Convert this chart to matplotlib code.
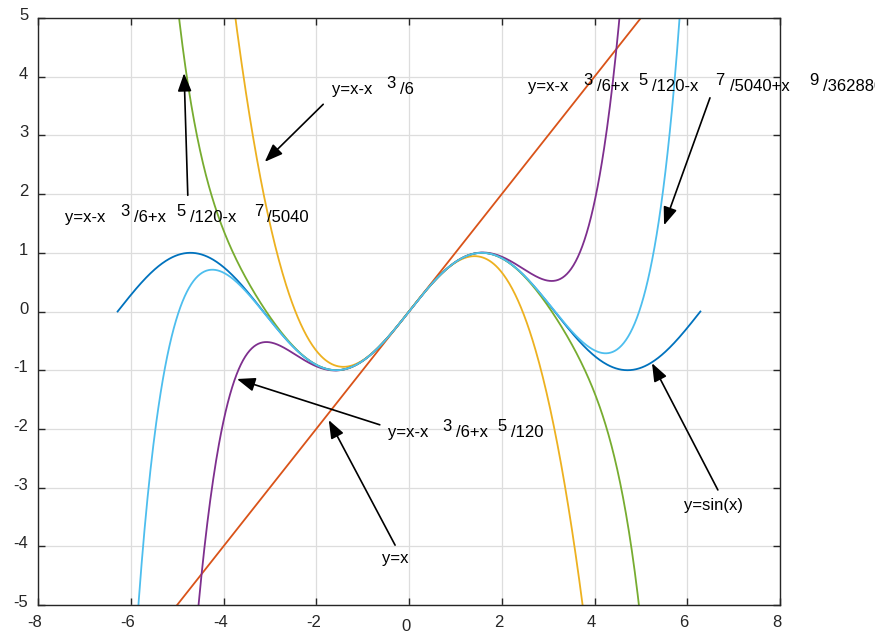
import numpy as np
import matplotlib
matplotlib.use('Agg')
import matplotlib.pyplot as plt
from matplotlib.transforms import ScaledTranslation

plt.rcParams['font.family'] = ['Liberation Sans', 'DejaVu Sans']
plt.rcParams['axes.unicode_minus'] = False

# data: sin(x) and its Taylor polynomials on [-2pi, 2pi]
x_min, x_max = -2 * np.pi, 2 * np.pi
taylor_orders = [1, 3, 5, 7, 9]
taylor_colors = ['#D95319', '#EDB120', '#7E2F8E', '#77AC30', '#4DBEEE']
x_ticks = [-8, -6, -4, -2, 0, 2, 4, 6, 8]
y_ticks = [-5, -4, -3, -2, -1, 0, 1, 2, 3, 4, 5]

# label pieces: (text, superscript?, gap before in px)
lab3 = [('y=x-x', 0, 0), ('3', 1, 14), ('/6', 0, 4)]
lab5 = [('y=x-x', 0, 0), ('3', 1, 14), ('/6+x', 0, 4), ('5', 1, 10), ('/120', 0, 4)]
lab7 = [('y=x-x', 0, 0), ('3', 1, 15), ('/6+x', 0, 4), ('5', 1, 11), ('/120-x', 0, 4),
        ('7', 1, 18), ('/5040', 0, 4)]
lab9 = [('y=x-x', 0, 0), ('3', 1, 15), ('/6+x', 0, 4), ('5', 1, 10), ('/120-x', 0, 4),
        ('7', 1, 17), ('/5040+x', 0, 5), ('9', 1, 20), ('/362880', 0, 4)]
lab1 = [('y=x', 0, 0)]
lab_sin = [('y=sin(x)', 0, 0)]

# annotations: label, text pos, arrow tail, arrow head (data units)
notes = [
    (lab3, (-1.66, 3.78), (-1.85, 3.53), (-3.11, 2.55)),
    (lab7, (-7.42, 1.60), (-4.77, 1.98), (-4.85, 4.06)),
    (lab9, (2.57, 3.83), (6.49, 3.64), (5.50, 1.47)),
    (lab5, (-0.45, -2.06), (-0.63, -1.93), (-3.71, -1.15)),
    (lab1, (-0.58, -4.2), (-0.30, -3.98), (-1.73, -1.85)),
    (lab_sin, (5.93, -3.30), (6.66, -3.04), (5.24, -0.88)),
]

x = np.linspace(x_min, x_max, 800)

fig = plt.figure(figsize=(8.75, 6.34), dpi=100)
ax = fig.add_axes([38 / 875, 29 / 634, 742 / 875, 587 / 634])

ax.plot(x, np.sin(x), color='#0072BD', lw=1.3)
y = np.zeros_like(x)
term = x.copy()
for n, c in zip(taylor_orders, taylor_colors):
    if n > 1:
        term = -term * x * x / ((n - 1) * n)
    y = y + term
    ax.plot(x, y, color=c, lw=1.3)

fs = 12
raise_pt = 4.5
for pieces, tpos, tail, head in notes:
    first = ax.text(tpos[0], tpos[1], pieces[0][0], fontsize=fs, va='center', ha='left', clip_on=False)
    prev = first
    up = 0
    for s, sup, gap in pieces[1:]:
        dy = raise_pt if sup else 0
        prev = ax.annotate(s, xy=(1, 0), xycoords=prev,
                           xytext=(gap * 0.72, dy - up), textcoords='offset points',
                           fontsize=fs, va='bottom', ha='left', annotation_clip=False)
        up = dy
    ax.annotate('', xy=head, xytext=tail,
                arrowprops=dict(arrowstyle='-|>,head_length=1.1,head_width=0.42',
                                color='k', lw=1.2, shrinkA=0, shrinkB=0))

ax.set_xlim(-8, 8)
ax.set_ylim(-5, 5)
ax.set_xticks(x_ticks)
ax.set_yticks(y_ticks)
ax.grid(True, color='#dddddd', lw=0.9)
ax.set_axisbelow(True)
ax.tick_params(direction='in', top=True, right=True, length=5, width=1,
               labelsize=12, colors='#262626', pad=7)
ax.xaxis.get_major_ticks()[4].set_pad(10)
for lb in ax.get_xticklabels():
    lb.set_transform(lb.get_transform() + ScaledTranslation(-3 / 100, 0, fig.dpi_scale_trans))
for lb in ax.get_yticklabels():
    lb.set_transform(lb.get_transform() + ScaledTranslation(0, 4 / 100, fig.dpi_scale_trans))
for s in ax.spines.values():
    s.set_color('#262626')
    s.set_linewidth(1.0)

fig.savefig('out.png', dpi=100)
